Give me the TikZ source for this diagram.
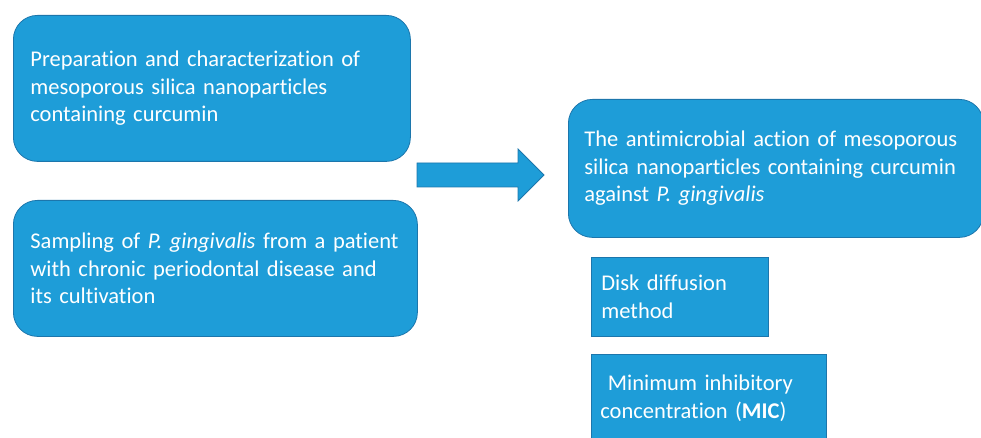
\documentclass[tikz,border=0pt]{standalone}
\usepackage{fontspec}
\setmainfont{Carlito}[Ligatures=NoCommon]
\definecolor{boxblue}{RGB}{30,157,216}
\definecolor{boxedge}{RGB}{28,118,172}
\tikzset{
  card/.style={draw=boxedge, line width=0.8pt, fill=boxblue, text=white,
    align=left, anchor=north west, inner ysep=0pt,
    font=\fontsize{22.5}{27.7}\selectfont},
  roundcard/.style={card, rounded corners=24pt},
}
\begin{document}
\begin{tikzpicture}[x=1pt,y=-1pt]
% 画布
\useasboundingbox (0,0) rectangle (981,438);
\clip (0,0) rectangle (981,438);

% 左边两个圆角框
\node[roundcard, minimum width=397pt, minimum height=146pt, inner xsep=17pt, text width=363pt]
  (prep) at (13,15) {Preparation and characterization of\\ mesoporous silica nanoparticles\\ containing curcumin};
\node[roundcard, minimum width=404pt, minimum height=136pt, inner xsep=17pt, text width=370pt]
  (sampling) at (13,200) {Sampling of \textit{P. gingivalis} from a patient\\ with chronic periodontal disease and\\ its cultivation};

% 右边的结果框
\node[roundcard, minimum width=415pt, minimum height=138pt, inner xsep=16pt, text width=383pt]
  (action) at (568,99) {The antimicrobial action of mesoporous\\ silica nanoparticles containing curcumin\\ against \textit{P. gingivalis}};
\node[card, minimum width=177pt, minimum height=79pt, inner xsep=10pt, text width=157pt]
  (disk) at (591,257) {Disk diffusion\\ method};
\node[card, minimum width=235pt, minimum height=88pt, inner xsep=9pt, text width=217pt]
  (mic) at (591,354) {\ Minimum inhibitory\\ concentration (\textbf{MIC})};

% 中间的大箭头
\coordinate (S1) at (417,163);
\coordinate (S2) at (518,163);
\coordinate (H1) at (518,149);
\coordinate (T) at (544,175);
\coordinate (H2) at (518,201);
\coordinate (S3) at (518,187);
\coordinate (S4) at (417,187);
\draw[draw=boxedge, line width=0.8pt, fill=boxblue]
  (S1) -- (S2) -- (H1) -- (T) -- (H2) -- (S3) -- (S4) -- cycle;
\end{tikzpicture}
\end{document}
